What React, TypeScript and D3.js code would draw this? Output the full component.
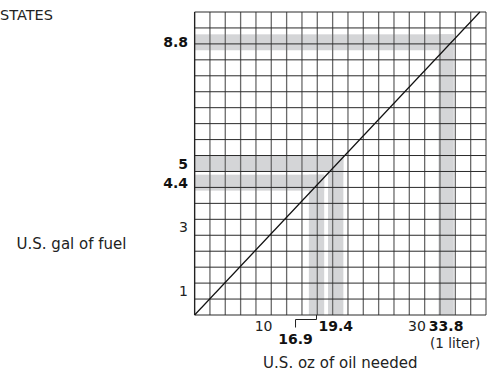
import React from 'react';
import * as d3 from 'd3';

// values
const galTicks = [1, 3];
const ozTicks = [10, 30];
const mixGal = [4.4, 5, 8.8];
const mixOz = [16.9, 19.4, 33.8];
const diagOz = [1, 38.2];
const diagGal = [0.25, 9.75];

const W = 487;
const H = 373;
const FONT = '"DejaVu Sans", sans-serif';
const BAND = '#d4d5d7';

export default function App() {
  const x = d3.scaleLinear().domain([1, 39]).range([194.6, 486]);
  const y = d3.scaleLinear().domain([0.25, 9.75]).range([315, 12]);

  const [x0, x1] = x.range();
  const [y0, y1] = y.range();

  const vLines = d3.range(1, 39.01, 2);
  const hLines = d3.range(0.25, 9.76, 0.5);

  const line = d3
    .line<number>()
    .x((d, i) => x(diagOz[i]))
    .y((d, i) => y(diagGal[i]));

  const pairs = mixOz.map((oz, i) => ({ oz, gal: mixGal[i] }));

  return (
    <svg
      width={W}
      height={H}
      style={{ position: 'absolute', left: 0, top: 0, background: '#fff' }}
      fontFamily={FONT}
    >
      <text x={0} y={20} fontSize={14.5} fill="#222">
        STATES
      </text>

      {/* shaded L bands */}
      {pairs.map((p) => (
        <g key={p.oz} fill={BAND}>
          <rect
            x={x0}
            y={y(p.gal + 0.25)}
            width={x(p.oz + 1) - x0}
            height={y(p.gal - 0.25) - y(p.gal + 0.25)}
          />
          <rect
            x={x(p.oz - 1)}
            y={y(p.gal + 0.25)}
            width={x(p.oz + 1) - x(p.oz - 1)}
            height={y0 - y(p.gal + 0.25)}
          />
        </g>
      ))}

      {/* grid */}
      {vLines.map((v) => (
        <line key={'v' + v} x1={x(v)} x2={x(v)} y1={y1} y2={y0} stroke="#6a6a6a" strokeWidth={1.3} />
      ))}
      {hLines.map((v) => (
        <line key={'h' + v} x1={x0} x2={x1} y1={y(v)} y2={y(v)} stroke="#2a2a2a" strokeWidth={1} />
      ))}
      <line x1={x0} x2={x0} y1={y1} y2={y0} stroke="#222" strokeWidth={1.2} />

      <path d={line(diagOz) || ''} fill="none" stroke="#111" strokeWidth={1.2} />

      {/* y labels */}
      {galTicks.map((v) => (
        <text key={'g' + v} x={188} y={y(v)} dy="0.36em" textAnchor="end" fontSize={14} fill="#222">
          {v}
        </text>
      ))}
      {mixGal.map((v) => (
        <text key={'mg' + v} x={188} y={y(v)} dy="0.36em" textAnchor="end" fontSize={14} fontWeight="bold" fill="#111">
          {v}
        </text>
      ))}

      {/* x labels */}
      {ozTicks.map((v) => (
        <text key={'o' + v} x={x(v)} y={331} textAnchor="middle" fontSize={14} fill="#222">
          {v}
        </text>
      ))}
      {mixOz.map((v, i) => {
        const low = i === 0;
        return (
          <text
            key={'mo' + v}
            x={low ? x(v) - 21 : x(v)}
            y={low ? 343.5 : 330.5}
            textAnchor="middle"
            fontSize={14}
            fontWeight="bold"
            fill="#111"
          >
            {v}
          </text>
        );
      })}
      <path
        d={`M${x(mixOz[0])},${y0}V319.5H${x(mixOz[0]) - 21}V327.5`}
        fill="none"
        stroke="#222"
        strokeWidth={1}
      />
      <text x={x(mixOz[2]) + 9} y={347.5} textAnchor="middle" fontSize={13.5} fill="#222">
        (1 liter)
      </text>

      {/* axis titles */}
      <text x={71.5} y={243.5} dy="0.36em" textAnchor="middle" fontSize={15} fill="#222">
        U.S. gal of fuel
      </text>
      <text x={(x0 + x1) / 2} y={368} textAnchor="middle" fontSize={15} fill="#222">
        U.S. oz of oil needed
      </text>
    </svg>
  );
}
